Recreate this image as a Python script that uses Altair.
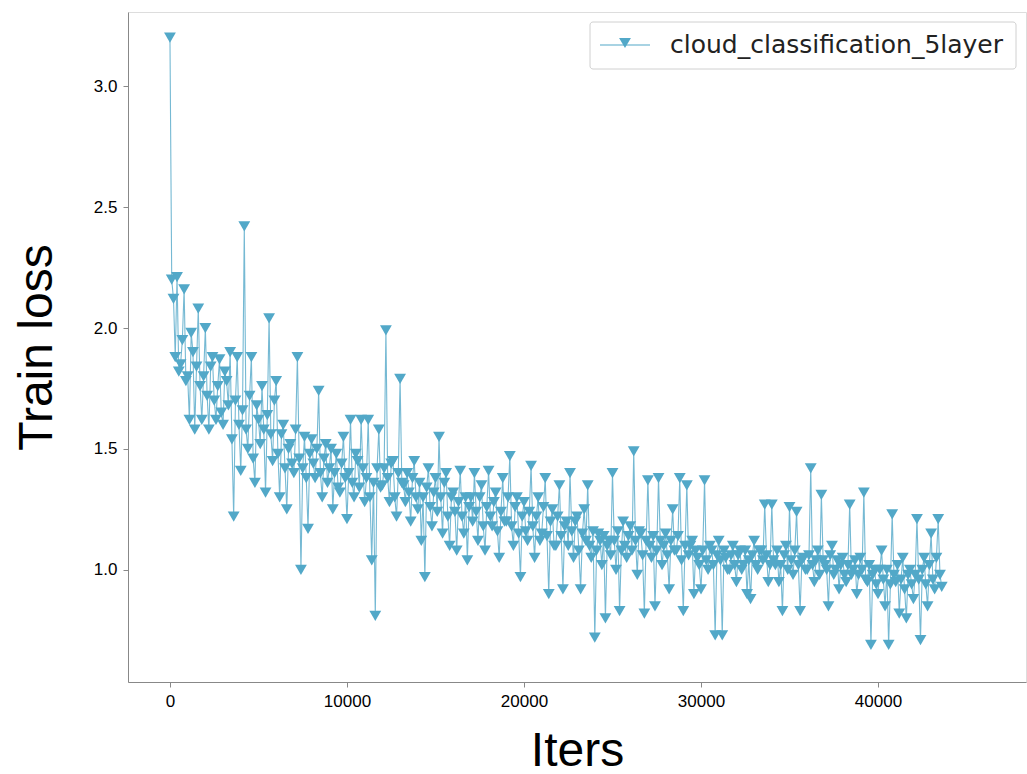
import altair as alt
import pandas as pd

# iterations (every 100) and train loss
ITER_STEP = 100
LOSS = [
    3.20, 2.20, 2.12, 1.88, 2.21, 1.82, 1.85, 1.95, 2.16, 1.78, 1.80, 1.62, 1.98, 1.90, 1.58, 1.84, 2.08, 1.76, 1.62, 1.80,
    2.00, 1.72, 1.58, 1.84, 1.88, 1.70, 1.62, 1.76, 1.87, 1.65, 1.60, 1.82, 1.78, 1.68, 1.90, 1.54, 1.22, 1.70, 1.88, 1.60,
    1.41, 1.66, 2.42, 1.58, 1.50, 1.72, 1.88, 1.46, 1.36, 1.68, 1.62, 1.52, 1.76, 1.58, 1.32, 1.64, 2.04, 1.56, 1.45, 1.70,
    1.78, 1.48, 1.30, 1.56, 1.60, 1.42, 1.25, 1.50, 1.52, 1.44, 1.40, 1.58, 1.88, 1.46, 1.00, 1.42, 1.55, 1.38, 1.17, 1.48,
    1.54, 1.44, 1.38, 1.50, 1.74, 1.40, 1.30, 1.46, 1.52, 1.36, 1.42, 1.50, 1.25, 1.40, 1.48, 1.34, 1.32, 1.44, 1.55, 1.38,
    1.21, 1.40, 1.62, 1.36, 1.30, 1.48, 1.45, 1.34, 1.62, 1.42, 1.28, 1.38, 1.62, 1.30, 1.04, 1.36, 0.81, 1.42, 1.58, 1.34,
    1.35, 1.42, 1.99, 1.38, 1.28, 1.44, 1.45, 1.30, 1.22, 1.40, 1.79, 1.36, 1.35, 1.28, 1.40, 1.32, 1.20, 1.38, 1.45, 1.30,
    1.25, 1.36, 1.12, 1.30, 0.97, 1.34, 1.42, 1.26, 1.18, 1.32, 1.38, 1.24, 1.55, 1.30, 1.15, 1.36, 1.40, 1.22, 1.10, 1.30,
    1.32, 1.24, 1.08, 1.28, 1.41, 1.22, 1.15, 1.30, 1.04, 1.26, 1.30, 1.20, 1.40, 1.24, 1.12, 1.30, 1.35, 1.18, 1.08, 1.26,
    1.41, 1.22, 1.18, 1.28, 1.32, 1.16, 1.05, 1.24, 1.38, 1.20, 1.20, 1.30, 1.47, 1.18, 1.10, 1.26, 1.30, 1.15, 0.97, 1.22,
    1.28, 1.16, 1.12, 1.24, 1.43, 1.18, 1.05, 1.22, 1.30, 1.12, 1.15, 1.26, 1.38, 1.14, 0.90, 1.20, 1.25, 1.10, 1.10, 1.22,
    1.35, 1.14, 0.92, 1.18, 1.20, 1.10, 1.40, 1.16, 1.05, 1.20, 1.22, 1.08, 0.92, 1.15, 1.25, 1.12, 1.35, 1.10, 1.05, 1.16,
    0.72, 1.08, 1.15, 1.12, 1.02, 1.14, 0.80, 1.10, 1.12, 1.06, 1.40, 1.12, 1.00, 1.16, 0.83, 1.08, 1.20, 1.10, 1.05, 1.14,
    1.18, 1.08, 1.49, 1.12, 0.98, 1.16, 1.15, 1.06, 0.82, 1.12, 1.37, 1.10, 1.05, 1.14, 0.85, 1.08, 1.38, 1.12, 1.02, 1.10,
    1.15, 1.06, 0.92, 1.12, 1.25, 1.08, 1.08, 1.14, 1.38, 1.04, 0.83, 1.10, 1.35, 1.06, 1.10, 1.12, 0.90, 1.08, 1.05, 1.02,
    0.92, 1.08, 1.37, 1.04, 1.00, 1.10, 1.08, 1.02, 0.73, 1.06, 1.12, 1.04, 0.73, 1.08, 1.05, 1.00, 1.00, 1.06, 1.10, 1.02,
    0.95, 1.06, 1.08, 1.00, 1.02, 1.08, 0.90, 1.04, 0.88, 1.06, 1.12, 1.02, 1.00, 1.08, 1.08, 1.04, 1.27, 1.06, 0.95, 1.02,
    1.27, 1.04, 1.02, 1.08, 0.95, 1.02, 0.83, 1.06, 1.10, 1.00, 1.26, 1.04, 0.98, 1.08, 1.24, 1.02, 0.83, 1.04, 1.05, 1.00,
    1.00, 1.06, 1.42, 1.02, 0.95, 1.04, 1.08, 0.98, 1.31, 1.04, 1.02, 1.00, 0.85, 1.06, 1.10, 0.98, 1.00, 1.04, 0.92, 1.02,
    1.05, 0.98, 0.95, 1.02, 1.27, 0.98, 1.00, 1.04, 0.90, 0.98, 1.05, 1.00, 1.32, 0.96, 0.95, 1.02, 0.69, 0.98, 1.00, 0.94,
    0.90, 1.00, 1.08, 0.96, 0.85, 1.00, 0.69, 0.94, 1.23, 0.98, 0.95, 1.02, 0.82, 0.96, 1.05, 0.92, 0.80, 0.98, 1.00, 0.94,
    0.88, 0.98, 1.21, 0.96, 0.71, 1.00, 1.05, 0.94, 0.85, 1.02, 1.15, 0.96, 0.92, 1.05, 1.21, 0.98, 0.93,
]
ITERS = [i * ITER_STEP for i in range(len(LOSS))]
SERIES = "cloud_classification_5layer"
X_TICKS = [0, 10000, 20000, 30000, 40000]
Y_TICKS = [1.0, 1.5, 2.0, 2.5, 3.0]

COLOR = "#52a8c8"
W, H = 898, 670

df = pd.DataFrame({"iters": ITERS, "loss": LOSS})

x_enc = alt.X("iters:Q",
              scale=alt.Scale(domain=[-2370, 48360], nice=False, zero=False),
              axis=alt.Axis(values=X_TICKS, title="Iters", format="d", grid=False,
                            labelFontSize=17, titleFontSize=48,
                            titleFontWeight="normal", titlePadding=18,
                            tickSize=5, labelPadding=6))
y_enc = alt.Y("loss:Q",
              scale=alt.Scale(domain=[0.537, 3.306], nice=False, zero=False),
              axis=alt.Axis(values=Y_TICKS, title="Train loss", format=".1f", grid=False,
                            labelFontSize=17, titleFontSize=48,
                            titleFontWeight="normal", titlePadding=32,
                            tickSize=5, labelPadding=6))

base = alt.Chart(df)
line = base.mark_line(color=COLOR, strokeWidth=1.1, opacity=0.8).encode(x=x_enc, y=y_enc)
pts = base.mark_point(shape="triangle-down", filled=True, size=140, color=COLOR,
                      opacity=1).encode(x="iters:Q", y="loss:Q")

leg_df = pd.DataFrame({"label": [SERIES]})
leg = alt.Chart(leg_df)
box = leg.mark_rect(fill="white", stroke="#cccccc", strokeWidth=1, cornerRadius=3,
                    opacity=0.9).encode(
    x=alt.value(462), x2=alt.value(888), y=alt.value(10), y2=alt.value(57))
lline = leg.mark_rule(color=COLOR, strokeWidth=1.2).encode(
    x=alt.value(472), x2=alt.value(522), y=alt.value(33))
lpt = leg.mark_point(shape="triangle-down", filled=True, size=140, color=COLOR,
                     opacity=1).encode(x=alt.value(497), y=alt.value(31))
ltxt = leg.mark_text(align="left", baseline="middle", fontSize=25,
                     color="#222222", font="DejaVu Sans").encode(
    x=alt.value(542), y=alt.value(33), text="label:N")

chart = alt.layer(line, pts, box, lline, lpt, ltxt).properties(
    width=W, height=H,
    padding={"left": 128, "top": 12, "right": 1, "bottom": 92},
    autosize="none",
).configure_view(
    stroke="black", strokeWidth=1.2
).configure_axis(
    domain=False, grid=False, tickColor="black", labelColor="#222222",
    titleColor="black", labelFont="DejaVu Sans", titleFont="DejaVu Sans",
    tickWidth=1,
).configure(background="white")

chart.save("out.html", embed_options={"renderer": "svg", "actions": False})
